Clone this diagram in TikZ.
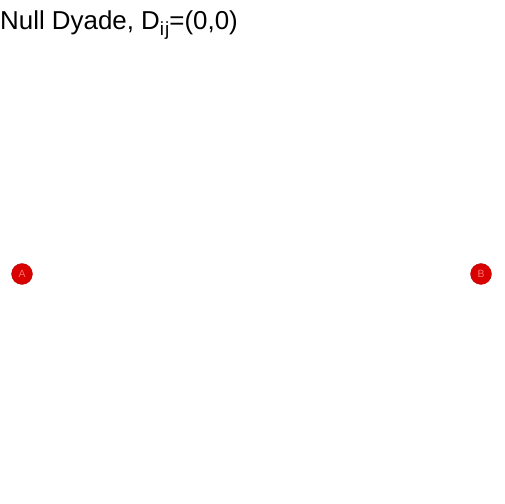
\documentclass[tikz,border=0pt]{standalone}
\usepackage{fontspec}
\setmainfont{Liberation Sans}
\definecolor{vfill}{HTML}{D90000}
\definecolor{vlab}{HTML}{FF7070}
\tikzset{vert/.style={circle,fill=vfill,draw=vfill!80!black,line width=0.3pt,minimum size=21bp,inner sep=0pt,text=vlab,font=\fontsize{10.5}{10.5}\selectfont}}
\begin{document}
\begin{tikzpicture}[x=1bp,y=1bp]
\useasboundingbox (0,0) rectangle (504,504);
\node[anchor=base west,inner sep=0pt,font=\fontsize{26}{26}\selectfont] (title) at (0,474) {Null Dyade, D\raisebox{-6bp}{\fontsize{19}{19}\selectfont i\kern1bp j}=(0,0)};
\node[vert] (A) at (22,230) {A};
\node[vert] (B) at (481,230) {B};
\end{tikzpicture}
\end{document}
